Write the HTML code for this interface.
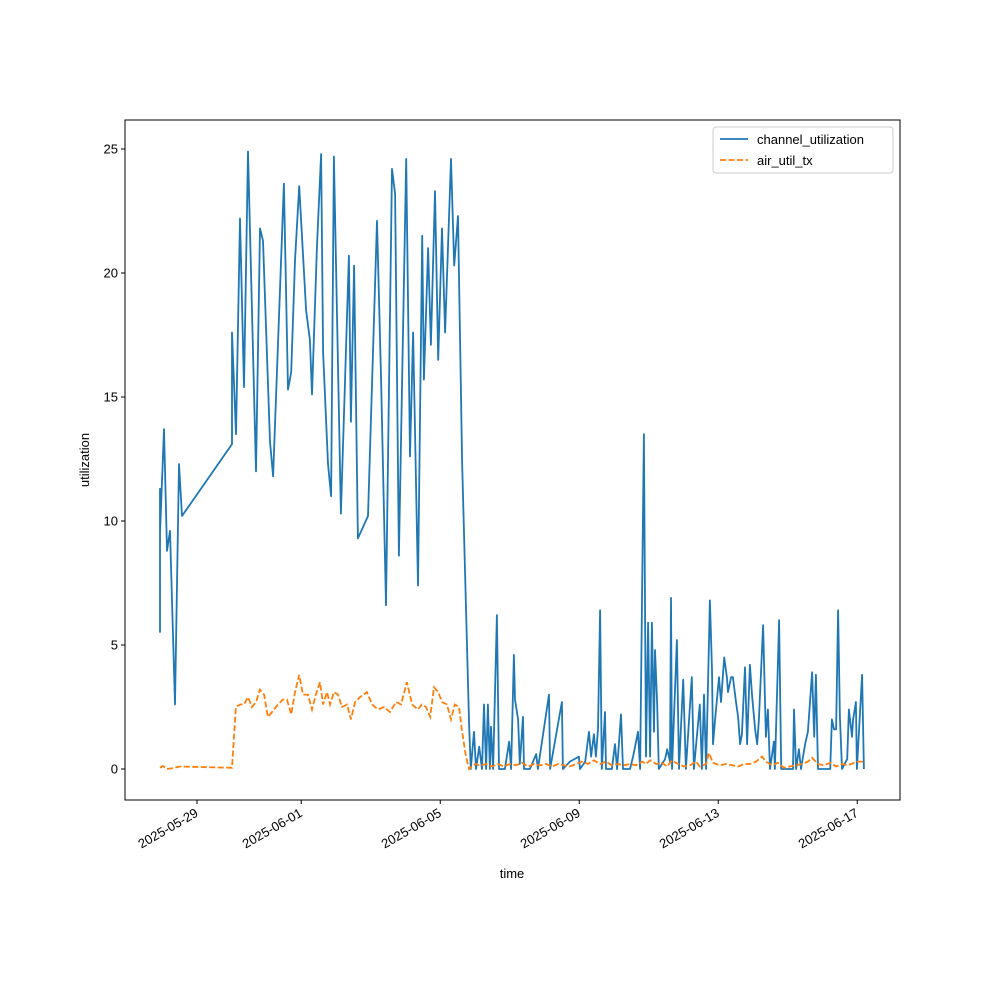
<!DOCTYPE html>
<html><head><meta charset="utf-8"><style>
body{margin:0;background:#fff}
svg text{font-family:"Liberation Sans","DejaVu Sans",sans-serif;font-size:13px;fill:#000}
</style></head><body>
<svg id="chart" width="1000" height="1000" viewBox="0 0 1000 1000" xmlns="http://www.w3.org/2000/svg">
<rect width="1000" height="1000" fill="#fff"/>
<g id="plot"></g>
<rect x="125" y="120" width="775" height="680" fill="none" stroke="#000" stroke-width="1"/>
<text x="512" y="878" text-anchor="middle">time</text>
<text x="89" y="460" text-anchor="middle" transform="rotate(-90 89 460)">utilization</text>
<g>
<rect x="713" y="127" width="180" height="46" rx="3" fill="#fff" fill-opacity="0.8" stroke="#ccc"/>
<line x1="720" y1="139" x2="748" y2="139" stroke="#1f77b4" stroke-width="1.8"/>
<text x="757" y="144">channel_utilization</text>
<line x1="720" y1="160" x2="748" y2="160" stroke="#ff7f0e" stroke-width="1.8" stroke-dasharray="6,2.5"/>
<text x="757" y="165">air_util_tx</text>
</g>
</svg>
<script>
// times are days since 2025-05-29
const chTimes=[-1.065,-1.065,-1.065,-0.95,-0.863,-0.777,-0.633,-0.518,-0.432,1.007,1.007,1.122,1.238,1.353,1.468,1.698,1.813,1.9,2.1,2.19,2.5,2.62,2.71,2.82,2.94,3.14,3.25,3.31,3.45,3.57,3.63,3.77,3.86,3.94,4.14,4.37,4.43,4.52,4.63,4.92,5.18,5.30,5.44,5.61,5.70,5.81,6.02,6.13,6.22,6.36,6.48,6.53,6.65,6.73,6.85,6.94,7.05,7.14,7.31,7.40,7.51,7.63,7.83,
7.88,7.97,8.03,8.12,8.20,8.26,8.32,8.37,8.43,8.46,8.52,8.63,8.69,8.86,8.98,9.04,9.12,9.15,9.24,9.29,9.38,9.41,9.58,9.76,9.81,10.13,10.16,10.50,10.53,10.73,10.99,11.02,11.17,11.28,11.34,11.42,11.48,11.54,11.60,11.65,11.74,11.77,11.94,12.03,12.09,12.20,12.26,12.46,12.55,12.69,12.75,12.86,12.92,12.98,13.04,13.09,13.15,13.18,13.24,13.29,13.47,13.53,13.61,13.64,13.67,13.81,13.87,13.99,14.07,14.24,14.30,14.47,14.53,14.59,14.65,14.76,14.82,14.85,14.91,15.02,15.08,15.17,15.25,15.28,15.37,15.42,15.51,15.57,15.63,15.68,15.77,15.83,15.91,15.97,16.06,16.12,16.17,16.29,16.37,16.43,16.49,16.60,16.63,16.75,16.81,17.15,17.18,17.24,17.32,17.38,17.50,17.58,17.70,17.76,17.81,17.87,18.22,18.27,18.33,18.39,18.45,18.50,18.56,18.71,18.76,18.85,18.88,18.96,18.99,19.14,19.19];
const chValues=[5.5,11.3,9.5,13.7,8.8,9.6,2.6,12.3,10.2,13.1,17.6,13.5,22.2,15.4,24.9,12.0,21.8,21.3,13.2,11.8,23.6,15.3,16.0,20.5,23.5,18.5,17.3,15.1,21.0,24.8,16.8,12.3,11.0,24.7,10.3,20.7,14.0,20.3,9.3,10.2,22.1,15.5,6.6,24.2,23.2,8.6,24.6,12.6,17.6,7.4,21.5,15.7,21.0,17.1,23.3,16.5,21.8,17.6,24.6,20.3,22.3,12.4,1.8,
0,1.5,0,0.9,0,2.6,0,2.6,0,1.7,0,6.2,0,0,1.1,0,4.6,2.8,2.0,0.2,2.1,0,0,0.6,0,3.0,0,2.7,0,0.3,0.5,0,0.3,1.5,0.5,1.4,0.5,1.6,6.4,0,2.3,0,0,1.0,0,2.2,0,0,0.5,1.5,0,13.5,0.5,5.9,0.5,5.9,1.5,4.8,2.7,0,0.4,0.8,0.3,6.9,0,5.2,0,3.6,0,3.7,0,2.6,0,3.0,0,6.8,4.0,1.0,2.0,3.7,2.7,4.5,3.7,3.1,3.7,3.7,2.7,2.1,1.0,1.4,4.1,1.0,4.2,3.0,1.6,1.0,2.0,5.8,1.3,2.4,0,1.1,0,6.0,0,0,2.4,0,0.8,0,1.0,1.5,3.9,1.3,3.8,0,0,2.0,1.6,1.6,6.4,2.1,0,0.4,2.4,1.3,2.0,2.7,0,3.8,0];
const airTimes=[-1.065,-0.98,-0.863,-0.72,-0.49,1.007,1.12,1.24,1.35,1.47,1.58,1.70,1.81,1.93,2.04,2.16,2.33,2.47,2.59,2.71,2.82,2.94,3.05,3.19,3.31,3.42,3.54,3.63,3.74,3.83,3.94,4.06,4.17,4.32,4.43,4.55,4.69,4.89,5.04,5.21,5.38,5.55,5.73,5.87,6.04,6.19,6.36,6.47,6.59,6.71,6.82,6.94,7.05,7.19,7.31,7.42,7.54,7.63,7.74,7.83,
8.00,8.14,8.32,8.49,8.66,8.83,9.01,9.18,9.35,9.53,9.70,9.87,10.04,10.22,10.39,10.56,10.73,10.91,11.08,11.25,11.42,11.60,11.77,11.94,12.12,12.29,12.46,12.63,12.81,12.92,13.04,13.21,13.38,13.53,13.67,13.84,14.01,14.19,14.36,14.47,14.65,14.73,14.85,15.05,15.22,15.40,15.57,15.74,15.91,16.09,16.26,16.37,16.55,16.72,16.89,17.06,17.24,17.41,17.58,17.70,17.87,18.04,18.22,18.39,18.56,18.73,18.91,19.02,19.19];
const airValues=[0.05,0.12,0,0.03,0.1,0.05,2.5,2.6,2.6,2.9,2.5,2.7,3.2,3.0,2.1,2.3,2.6,2.8,2.8,2.2,3.1,3.8,3.0,3.0,2.4,3.0,3.5,2.6,3.1,2.6,3.1,3.0,2.5,2.6,2.0,2.7,2.9,3.1,2.6,2.4,2.5,2.3,2.7,2.6,3.5,2.6,2.4,2.6,2.5,2.1,3.3,3.1,2.7,2.6,2.0,2.6,2.5,1.5,0.5,0,
0.2,0.15,0.2,0.1,0.2,0.1,0.2,0.15,0.25,0.1,0.2,0.15,0.2,0.1,0.2,0.15,0.1,0.2,0.3,0.2,0.35,0.2,0.3,0.15,0.2,0.15,0.2,0.15,0.3,0.2,0.35,0.2,0.25,0.1,0.35,0.2,0.1,0.15,0.3,0.1,0.2,0.65,0.25,0.15,0.2,0.15,0.1,0.2,0.2,0.3,0.5,0.3,0.15,0.25,0.05,0.1,0.15,0.2,0.3,0.45,0.2,0.15,0.25,0.1,0.2,0.15,0.25,0.3,0.3];
const xTickDays=[0,3,7,11,15,19];
const xTickLabels=["2025-05-29","2025-06-01","2025-06-05","2025-06-09","2025-06-13","2025-06-17"];
const yTicks=[0,5,10,15,20,25];

const X0=125,X1=900,Y0=120,Y1=800;
const dMin=-2.072,dMax=20.23,vMin=-1.25,vMax=26.17;
const sx=d=>X0+(d-dMin)/(dMax-dMin)*(X1-X0);
const sy=v=>Y1-(v-vMin)/(vMax-vMin)*(Y1-Y0);
const NS="http://www.w3.org/2000/svg";
const g=document.getElementById('plot');
function mk(t,a){const e=document.createElementNS(NS,t);for(const k in a)e.setAttribute(k,a[k]);g.appendChild(e);return e;}

yTicks.forEach(v=>{
  const y=sy(v);
  const tk=mk('line',{x1:X0-4,x2:X0,y1:y,y2:y,stroke:'#000'});
  
  
  const tx=mk('text',{x:X0-7,y:y+4.5,'text-anchor':'end'});
  
  
  tx.textContent=v;
});
xTickDays.forEach((d,i)=>{
  const x=sx(d);
  const tk=mk('line',{x1:x,x2:x,y1:Y1,y2:Y1+4,stroke:'#000'});
  
  
  const tx=mk('text',{x:x,y:Y1+16,'text-anchor':'end',transform:`rotate(-30 ${x} ${Y1+12})`});
  
  
  tx.textContent=xTickLabels[i];
});
function pts(ts,vs){return ts.map((t,i)=>sx(t).toFixed(1)+','+sy(vs[i]).toFixed(1)).join(' ');}
const l1=mk('polyline',{points:pts(chTimes,chValues),fill:'none',stroke:'#1f77b4','stroke-width':1.8,'stroke-linejoin':'round'});


const l2=mk('polyline',{points:pts(airTimes,airValues),fill:'none',stroke:'#ff7f0e','stroke-width':1.8,'stroke-dasharray':'6,2.5'});


</script>
</body></html>
